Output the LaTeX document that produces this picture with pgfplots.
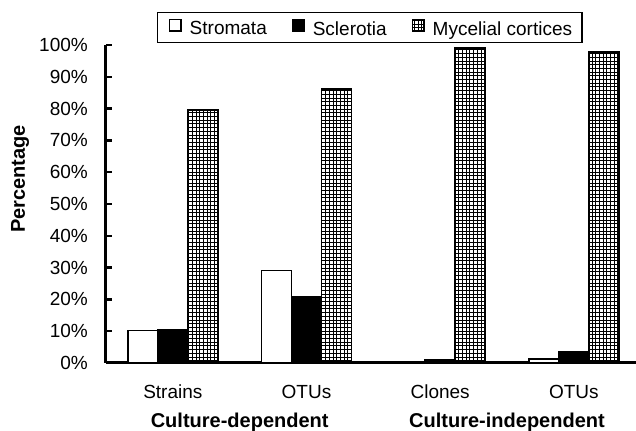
\documentclass[border=0pt]{standalone}
\usepackage{fontspec}
\setmainfont{Liberation Sans}
\usepackage{pgfplots}
\pgfplotsset{compat=1.18}
\usetikzlibrary{patterns}
\pgfdeclarepatternformonly{mygrid}{\pgfqpoint{-1pt}{-1pt}}{\pgfqpoint{4.7pt}{4.7pt}}{\pgfqpoint{3.7pt}{3.7pt}}{%
  \pgfsetlinewidth{0.9pt}%
  \pgfpathmoveto{\pgfqpoint{-0.5pt}{0pt}}\pgfpathlineto{\pgfqpoint{4.2pt}{0pt}}%
  \pgfpathmoveto{\pgfqpoint{0pt}{-0.5pt}}\pgfpathlineto{\pgfqpoint{0pt}{4.2pt}}%
  \pgfusepath{stroke}}

\begin{document}
\begin{tikzpicture}
\begin{axis}[
  scale only axis, width=530pt, height=318pt,
  xmin=-0.5, xmax=3.465, ymin=0, ymax=100,
  axis x line=bottom, axis y line=left,
  axis line style={-, line width=3pt},
  ybar=0pt, bar width=30pt,
  xtick={0,1,2,3}, xticklabels={Strains,OTUs,Clones,OTUs},
  xtick style={draw=none},
  ytick={0,10,20,30,40,50,60,70,80,90,100},
  yticklabels={0\%,10\%,20\%,30\%,40\%,50\%,60\%,70\%,80\%,90\%,100\%},
  tick align=inside, major tick length=6pt,
  ytick style={line width=2.5pt, black},
  tick label style={font=\fontsize{19}{21}\selectfont},
  yticklabel style={anchor=east, inner sep=0pt, xshift=-18pt},
  xticklabel style={anchor=base, inner sep=0pt, yshift=-36pt},
  ylabel={Percentage},
  ylabel style={font=\bfseries\fontsize{20}{22}\selectfont, at={(axis description cs:-0.162,0.579)}, anchor=center},
  clip=false,
  legend columns=3,
  legend style={at={(axis description cs:0.0962,1.1038)}, anchor=north west, draw=black, line width=1.5pt,
    font=\fontsize{19}{21}\selectfont, inner xsep=8pt, inner ysep=4pt,
    /tikz/every even column/.append style={column sep=20pt}},
  legend cell align=left,
  legend image code/.code={%
    \path (0pt,0pt) (20.5pt,11.5pt);
    \draw[#1, line width=1.5pt] (3pt,-2pt) rectangle (14.5pt,9.5pt);},
]
\addplot[fill=white, draw=black, line width=1.5pt] coordinates {(0,10.2) (1,29.1) (2,0.4) (3,1.3)};
\addplot[fill=black, draw=black, line width=1.5pt] coordinates {(0,10.6) (1,20.9) (2,1.1) (3,3.6)};
\addplot[pattern=mygrid, draw=black, line width=1.5pt] coordinates {(0,79.5) (1,86.2) (2,99.0) (3,97.8)};
\legend{Stromata, Sclerotia, Mycelial cortices}
\node[font=\bfseries\fontsize{20}{22}\selectfont, anchor=base] at ([yshift=-65pt]axis cs:0.5,0) {Culture-dependent};
\node[font=\bfseries\fontsize{20}{22}\selectfont, anchor=base] at ([yshift=-65pt]axis cs:2.5,0) {Culture-independent};
\end{axis}
\pgfresetboundingbox
\path ([shift={(-106pt,-68pt)}]current axis.south west) rectangle ([shift={(0pt,45pt)}]current axis.north east);
\end{tikzpicture}
\end{document}
